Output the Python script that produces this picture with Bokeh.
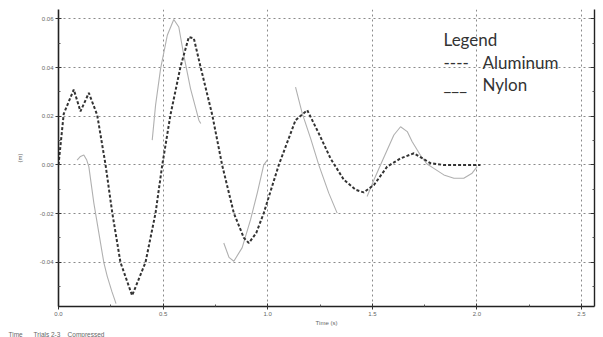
import math
from bokeh.plotting import figure
from bokeh.models import Range1d, FixedTicker, LinearAxis, Label, NumeralTickFormatter, Title
from bokeh.embed import file_html
from bokeh.resources import INLINE

NaN = float("nan")

# Aluminum (dashed) - time (s), displacement
al_t = [0.0, 0.025, 0.073, 0.105, 0.145, 0.185, 0.225, 0.257, 0.296, 0.352, 0.416, 0.464,
        0.496, 0.535, 0.583, 0.623, 0.647, 0.679, 0.735, 0.782, 0.838, 0.886, 0.910, 0.945,
        0.981, 1.053, 1.133, 1.189, 1.244, 1.300, 1.364, 1.420, 1.459, 1.508, 1.571, 1.635,
        1.699, 1.778, 1.840, 1.920, 2.017]
al_y = [0.0, 0.021, 0.031, 0.022, 0.0296, 0.0205, 0.0, -0.0197, -0.040, -0.0537, -0.040, -0.0197,
        0.0, 0.0205, 0.0403, 0.0526, 0.052, 0.0403, 0.0205, 0.0, -0.0198, -0.030, -0.0321, -0.028,
        -0.0198, 0.0, 0.0184, 0.0225, 0.013, 0.0027, -0.0061, -0.0102, -0.0113, -0.0082, -0.0007, 0.0027,
        0.0048, 0.0007, 0.0, 0.0, 0.0]

# Nylon (solid) - pieces separated by NaN
ny_t = [0.089, 0.105, 0.121, 0.135, 0.145, 0.169, 0.193, 0.217, 0.233, 0.255, 0.275, NaN,
        0.448, 0.464, 0.488, 0.520, 0.551, 0.575, 0.599, 0.631, 0.671, 0.680, NaN,
        0.790, 0.815, 0.838, 0.878, 0.918, 0.950, 0.981, 0.998, NaN,
        1.133, 1.165, 1.205, 1.244, 1.292, 1.332, NaN,
        1.475, 1.508, 1.539, 1.571, 1.603, 1.635, 1.667, 1.690, 1.730, 1.760, 1.794, 1.842,
        1.890, 1.937, 1.977, 2.001]
ny_y = [0.002, 0.0035, 0.0041, 0.002, -0.0007, -0.0157, -0.028, -0.0403, -0.0458, -0.052, -0.057, NaN,
        0.0102, 0.0246, 0.0396, 0.0533, 0.0598, 0.0567, 0.045, 0.0314, 0.0184, 0.017, NaN,
        -0.0321, -0.038, -0.0396, -0.034, -0.0225, -0.0116, 0.0, 0.002, NaN,
        0.032, 0.0212, 0.0109, 0.0, -0.0116, -0.0198, NaN,
        -0.013, -0.0061, 0.0, 0.0061, 0.0123, 0.0157, 0.0137, 0.0096, 0.004, 0.0005, -0.0014, -0.0041,
        -0.0055, -0.0055, -0.0034, -0.0007]

x_ticks = [0.0, 0.5, 1.0, 1.5, 2.0, 2.5]
x_minor = [0.25, 0.75, 1.25, 1.75, 2.25]
y_ticks = [-0.04, -0.02, 0.0, 0.02, 0.04, 0.06]
y_minor = [-0.05, -0.03, -0.01, 0.01, 0.03, 0.05]

x_label = "Time (s)"
y_label = "(m)"
NB = "\u00a0"
note = "Time" + NB * 6 + "Trials 2-3" + NB * 4 + "Compressed"
legend_title = "Legend"
legend_names = ["Aluminum", "Nylon"]
legend_marks = ["----", "___"]

p = figure(width=603, height=337, output_backend="svg", toolbar_location=None, title=None,
           x_range=Range1d(0, 2.562), y_range=Range1d(-0.0582, 0.0639),
           min_border_left=58, min_border_right=9, min_border_top=9, min_border_bottom=27)
p.outline_line_color = None
p.background_fill_color = "white"

xt = FixedTicker(ticks=x_ticks, minor_ticks=x_minor)
yt = FixedTicker(ticks=y_ticks, minor_ticks=y_minor)

for ax, tk, fmt in ((p.xaxis[0], xt, "0.0"), (p.yaxis[0], yt, "0.00")):
    ax.ticker = tk
    ax.formatter = NumeralTickFormatter(format=fmt)
    ax.axis_line_color = "#222"
    ax.axis_line_width = 1.6
    ax.major_tick_in = 3
    ax.major_tick_out = 3
    ax.minor_tick_in = 2
    ax.minor_tick_out = 0
    ax.major_tick_line_color = "#333"
    ax.minor_tick_line_color = "#555"
    ax.major_label_text_font_size = "6px"
    ax.major_label_text_color = "#666"
    ax.major_label_text_font = "Liberation Sans"
    ax.major_label_standoff = 2
    ax.axis_label_text_font = "Liberation Sans"
    ax.axis_label_text_font_size = "6px"
    ax.axis_label_text_font_style = "normal"
    ax.axis_label_text_color = "#666"

p.xaxis[0].axis_label = x_label
p.xaxis[0].axis_label_standoff = 1
p.yaxis[0].axis_label = y_label
p.yaxis[0].axis_label_standoff = 14

ra = LinearAxis(ticker=yt, major_label_text_font_size="1px", major_label_text_color=None,
                major_label_standoff=0,
                major_tick_in=4, major_tick_out=0, minor_tick_in=2, minor_tick_out=0,
                axis_line_color="#222", axis_line_width=1.4,
                major_tick_line_color="#333", minor_tick_line_color="#555")
p.add_layout(ra, "right")

p.xgrid.ticker = FixedTicker(ticks=x_ticks[1:])
p.ygrid.ticker = FixedTicker(ticks=y_ticks)
for g in (p.xgrid[0], p.ygrid[0]):
    g.grid_line_color = "#8a8a8a"
    g.grid_line_dash = "2 3"
    g.grid_line_width = 1

p.line(ny_t, ny_y, line_color="#b0b0b0", line_width=1.1)
p.line(al_t, al_y, line_color="#333333", line_width=2, line_dash="3 2")

p.add_layout(Title(text=note, align="left", text_font="Liberation Sans", text_font_size="6.5px",
                   text_font_style="normal", text_color="#666", standoff=0, offset=-50), "below")

big = dict(text_font="Lato", text_font_size="17px", text_color="#333", text_baseline="alphabetic")
p.add_layout(Label(x=(443 - 58) / 209.2, y=(165 - 39) / 2440, text=legend_title, **big))
p.add_layout(Label(x=(443 - 58) / 209.2, y=(165 - 62) / 2440, text=legend_marks[0], **big))
p.add_layout(Label(x=(482 - 58) / 209.2, y=(165 - 62) / 2440, text=legend_names[0], **big))
p.add_layout(Label(x=(443 - 58) / 209.2, y=(165 - 84) / 2440, text=legend_marks[1], **big))
p.add_layout(Label(x=(482 - 58) / 209.2, y=(165 - 84) / 2440, text=legend_names[1], **big))

open("out.html", "w").write(file_html(p, INLINE))
